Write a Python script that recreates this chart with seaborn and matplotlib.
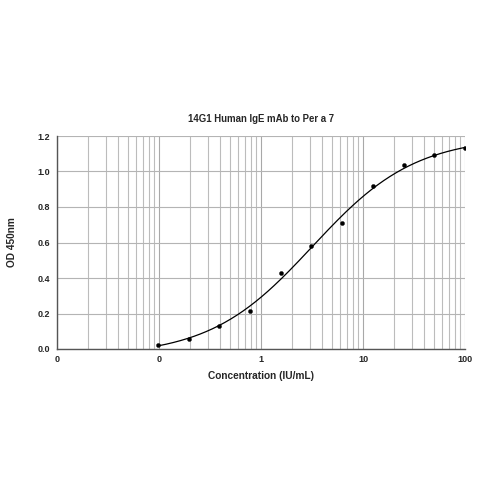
import matplotlib

matplotlib.use("Agg")
import matplotlib.pyplot as plt
import numpy as np
import pandas as pd
import seaborn as sns

# standard curve readings (serial 1:2 dilution from 100 IU/mL)
conc = [0.0977, 0.195, 0.39, 0.78, 1.5625, 3.125, 6.25, 12.5, 25, 50, 100]
od450 = [0.022, 0.056, 0.13, 0.216, 0.43, 0.579, 0.71, 0.917, 1.035, 1.093, 1.13]

xtick_pos = [0.01, 0.1, 1, 10, 100]
xtick_labels = ["0", "0", "1", "10", "100"]
ytick_pos = [0.0, 0.2, 0.4, 0.6, 0.8, 1.0, 1.2]

TITLE = "14G1 Human IgE mAb to Per a 7"
XLABEL = "Concentration (IU/mL)"
YLABEL = "OD 450nm"


def fit_4pl(x, y):
    """Crude 4PL fit: grid on bottom/top, linear fit of the logit in log x"""
    lx = np.log10(x)
    best = None
    for bottom in np.linspace(-0.1, min(y) - 0.001, 40):
        for top in np.linspace(max(y) + 0.001, 1.6, 80):
            z = np.log((y - bottom) / (top - y))
            slope, icpt = np.polyfit(lx, z, 1)
            pred = bottom + (top - bottom) / (1 + np.exp(-(slope * lx + icpt)))
            sse = np.sum((pred - y) ** 2)
            if best is None or sse < best[0]:
                best = (sse, bottom, top, slope, icpt)
    return best[1:]


df = pd.DataFrame({"conc": conc, "od": od450})
bottom, top, slope, icpt = fit_4pl(df["conc"].values, df["od"].values)
xs = np.logspace(np.log10(min(conc)), np.log10(max(conc)), 300)
curve = pd.DataFrame(
    {"conc": xs, "od": bottom + (top - bottom) / (1 + np.exp(-(slope * np.log10(xs) + icpt)))}
)

sns.set_style("white")
plt.rcParams["font.family"] = ["Liberation Sans", "DejaVu Sans"]

fig = plt.figure(figsize=(4.96, 4.94), dpi=100)
ax = fig.add_axes([57 / 496, 1 - 349 / 494, 408 / 496, 213 / 494])

sns.lineplot(data=curve, x="conc", y="od", color="black", linewidth=0.9, ax=ax, zorder=3)
sns.scatterplot(data=df, x="conc", y="od", color="black", s=9, edgecolor="black", ax=ax, zorder=4)

ax.set_xscale("log")
ax.set_xlim(0.01, 100)
ax.set_ylim(0, 1.2)
ax.set_xticks(xtick_pos)
ax.set_xticklabels(xtick_labels)
ax.set_yticks(ytick_pos)
ax.set_yticklabels([f"{v:.1f}" for v in ytick_pos])
ax.xaxis.set_minor_formatter(matplotlib.ticker.NullFormatter())

ax.grid(True, which="major", axis="x", color="#a8a8a8", linewidth=0.8)
ax.grid(True, which="minor", axis="x", color="#bcbcbc", linewidth=0.8)
ax.grid(True, which="major", axis="y", color="#b4b4b4", linewidth=0.8)
ax.set_axisbelow(True)

for side in ["top", "right"]:
    ax.spines[side].set_visible(False)
for side in ["left", "bottom"]:
    ax.spines[side].set_color("#555555")
    ax.spines[side].set_linewidth(1.0)

ax.tick_params(axis="y", which="major", length=3, width=0.8, color="#555555", pad=2, labelsize=6.5)
ax.tick_params(axis="x", which="both", length=0, pad=4, labelsize=6.5)
for lbl in ax.get_xticklabels() + ax.get_yticklabels():
    lbl.set_fontweight("bold")

ax.set_xlabel(XLABEL, fontsize=7.3, fontweight="bold")
ax.xaxis.set_label_coords(0.5, -22 / 213)
ax.set_ylabel(YLABEL, fontsize=7.3, fontweight="bold")
ax.yaxis.set_label_coords(-40 / 408, 0.5)
ax.set_title(TITLE, fontsize=6.9, fontweight="bold", pad=10)

plt.savefig("out.png", dpi=100)
plt.close()
